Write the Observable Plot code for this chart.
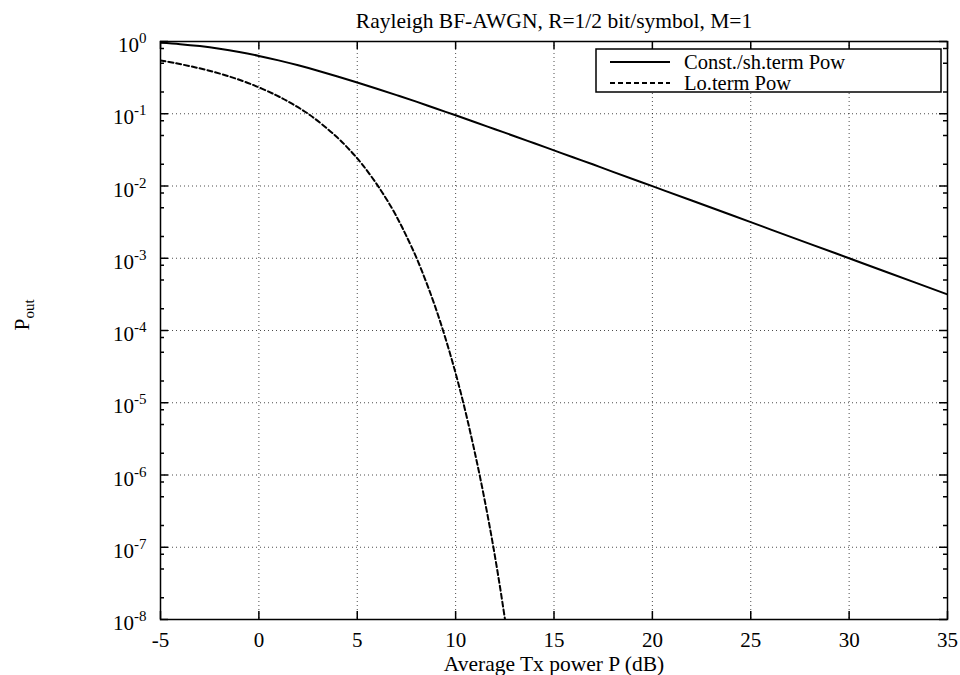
<!DOCTYPE html>
<html><head><meta charset="utf-8">
<script src="https://cdn.jsdelivr.net/npm/d3@7"></script>
<script src="https://cdn.jsdelivr.net/npm/@observablehq/plot@0.6"></script>
<style>html,body{margin:0;padding:0;background:#fff;} svg{display:block}</style>
</head><body><div id="chart"></div>
<script>
// ---- data ----
const titleText = "Rayleigh BF-AWGN, R=1/2 bit/symbol, M=1";
const xLabelText = "Average Tx power P (dB)";
const yLabelMain = "P";
const yLabelSub = "out";
const seriesNames = ["Const./sh.term Pow", "Lo.term Pow"];
const xTicks = [-5, 0, 5, 10, 15, 20, 25, 30, 35];
const yExponents = [0, -1, -2, -3, -4, -5, -6, -7, -8];
const yMinorMantissas = [2, 5, 8];

// Constant / short-term power constraint (solid)
const constX = [-5,-4,-3,-2,-1,0,1,2,3,4,5,6,7,8,9,10,11,12,13,14,15,16,17,18,20,22,25,28,30,32,35];
const constY = [0.958,0.919,0.864,0.795,0.716,0.632,0.548,0.468,0.394,0.328,0.271,0.222,0.181,0.147,0.118,0.0952,0.0764,0.0611,0.0489,0.0390,0.0311,0.0248,0.0198,0.0157,0.00995,0.00629,0.00316,0.00158,0.00100,0.000631,0.000316];

// Long-term power constraint (dashed)
const longX = [-5,-4.27,-3.43,-2.52,-1.53,-0.43,0.87,1.66,2.61,3.92,4.71,5.26,6.06,6.75,7.19,7.51,8.02,8.77,9.36,9.93,10.39,10.84,11.22,11.60,11.92,12.24,12.51];
const longY = [0.546,0.503,0.451,0.394,0.330,0.259,0.181,0.139,0.0952,0.0488,0.0296,0.0198,0.00995,0.00499,0.0030,0.0020,0.0010,3e-4,1e-4,3e-5,1e-5,3e-6,1e-6,3e-7,1e-7,3e-8,1e-8];

// ---- layout ----
const W = 960, H = 675;
const mL = 160, mR = 13, mT = 41, mB = 56;
const innerW = W - mL - mR, innerH = H - mT - mB;
const FONT = "'Liberation Serif', 'Times New Roman', Times, serif";

const constData = constX.map((x, i) => ({x, y: constY[i]}));
const longData = longX.map((x, i) => ({x, y: longY[i]}));
const yMajor = yExponents.map(e => Math.pow(10, e));
const yMinor = [];
for (const e of yExponents) if (e < 0) for (const m of yMinorMantissas) yMinor.push(m * Math.pow(10, e));

const gridStyle = {stroke: "#000", strokeOpacity: 0.7, strokeWidth: 1, strokeDasharray: "1,3"};

const plot = Plot.plot({
  width: W, height: H,
  marginLeft: mL, marginRight: mR, marginTop: mT, marginBottom: mB,
  style: {fontFamily: FONT, fontSize: "21px", color: "black", background: "white"},
  x: {domain: [-5, 35]},
  y: {type: "log", domain: [1e-8, 1]},
  marks: [
    Plot.ruleX(xTicks.slice(1, -1), {x: d => d, ...gridStyle}),
    Plot.ruleY(yMajor.slice(1, -1), {y: d => d, ...gridStyle}),
    Plot.tickX(xTicks, {x: d => d, insetTop: innerH - 8, stroke: "black", strokeWidth: 1.5}),
    Plot.tickX(xTicks, {x: d => d, insetBottom: innerH - 8, stroke: "black", strokeWidth: 1.5}),
    Plot.tickY(yMajor, {y: d => d, insetRight: innerW - 8, stroke: "black", strokeWidth: 1.5}),
    Plot.tickY(yMajor, {y: d => d, insetLeft: innerW - 8, stroke: "black", strokeWidth: 1.5}),
    Plot.tickY(yMinor, {y: d => d, insetRight: innerW - 4, stroke: "black", strokeWidth: 1.5}),
    Plot.tickY(yMinor, {y: d => d, insetLeft: innerW - 4, stroke: "black", strokeWidth: 1.5}),
    Plot.line(constData, {x: "x", y: "y", stroke: "black", strokeWidth: 2, curve: "catmull-rom", clip: true}),
    Plot.line(longData, {x: "x", y: "y", stroke: "black", strokeWidth: 2, strokeDasharray: "5,3", curve: "catmull-rom", clip: true}),
    Plot.frame({stroke: "black", strokeWidth: 1.5}),
    Plot.axisX(xTicks, {tickSize: 0, tickPadding: 13, tickFormat: d => String(d), fontSize: 21, label: null}),
    Plot.axisY(yMajor, {tickSize: 0, tickPadding: 14, tickFormat: d => "10^" + Math.round(Math.log10(d)), fontSize: 21, dy: 4, label: null}),
    Plot.text([titleText], {text: d => d, frameAnchor: "top", lineAnchor: "bottom", dy: -13.7, fontSize: 21.5}),
    Plot.text([xLabelText], {text: d => d, frameAnchor: "bottom", lineAnchor: "bottom", dy: 51, fontSize: 21.5}),
    Plot.text([yLabelMain + "_" + yLabelSub], {text: d => d, frameAnchor: "left", dx: -138, rotate: -90, fontSize: 21.5})
  ]
});

document.getElementById("chart").appendChild(plot);

const svg = d3.select(plot);
// superscript exponents for y tick labels, subscript for y label
svg.selectAll("text").each(function() {
  const t = d3.select(this);
  const s = this.textContent;
  if (/^10\^-?\d+$/.test(s)) {
    const exp = s.split("^")[1];
    t.text("");
    t.append("tspan").text("10");
    t.append("tspan").attr("dy", -9).attr("font-size", 15).text(exp);
  } else if (s === yLabelMain + "_" + yLabelSub) {
    t.text("");
    t.append("tspan").text(yLabelMain);
    t.append("tspan").attr("dy", 5).attr("font-size", 15).text(yLabelSub);
  }
});

// legend box (top-right, inside frame)
const right = W - mR;
const lg = svg.append("g").attr("font-family", FONT).attr("font-size", 20.5).attr("text-anchor", "start");
const boxX = right - 351, boxY = mT + 8, boxW = 345, boxH = 43;
lg.append("rect").attr("x", boxX).attr("y", boxY).attr("width", boxW).attr("height", boxH)
  .attr("fill", "white").attr("stroke", "black").attr("stroke-width", 1.5);
const dashes = [null, "5,3"];
seriesNames.forEach((name, i) => {
  const cy = boxY + 13 + i * 21;
  lg.append("line").attr("x1", boxX + 14).attr("x2", boxX + 74).attr("y1", cy).attr("y2", cy)
    .attr("stroke", "black").attr("stroke-width", 2).attr("stroke-dasharray", dashes[i]);
  lg.append("text").attr("x", boxX + 88).attr("y", cy).attr("dy", "0.32em").attr("fill", "black")
    .attr("text-anchor", "start").text(name);
});
</script>
</body></html>
